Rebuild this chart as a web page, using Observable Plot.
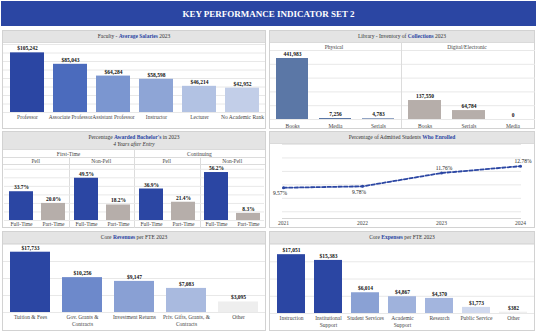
<!DOCTYPE html>
<html><head><meta charset="utf-8">
<script src="https://cdn.jsdelivr.net/npm/d3@7"></script>
<script src="https://cdn.jsdelivr.net/npm/@observablehq/plot@0.6"></script>
<style>
html,body{margin:0;padding:0;background:#fff;}
body{position:relative;width:537px;height:335px;overflow:hidden;font-family:'Liberation Serif','Times New Roman',serif;color:#333;}
.banner{position:absolute;left:1px;top:1px;width:535px;height:25px;background:#2b46a3;color:#fff;font-weight:bold;font-size:9px;text-align:center;line-height:26px;}
.panel{position:absolute;box-sizing:border-box;border:1px solid #d2d2d2;background:#fff;}
.hdr{position:absolute;left:0;top:0;right:0;background:#e4e4e4;text-align:center;font-size:5.5px;color:#333;border-bottom:1px solid #dadada;}
.hdr b{color:#2b46a3;}
.lbl{position:absolute;transform:translate(-50%,-50%);white-space:nowrap;font-size:5.5px;color:#444;}
.hl{position:absolute;height:1px;background:#dcdcdc;}
.vl{position:absolute;width:1px;background:#dcdcdc;}
</style></head><body>
<div class="banner">KEY PERFORMANCE INDICATOR SET 2</div>

<div class="panel" style="left:2px;top:30px;width:264px;height:99px"><div class="hdr" style="height:11px;line-height:11px">Faculty - <b>Average Salaries</b> 2023</div></div>
<div class="panel" style="left:269px;top:30px;width:266px;height:99px"><div class="hdr" style="height:11px;line-height:11px">Library - Inventory of <b>Collections</b> 2023</div></div>
<div class="panel" style="left:2px;top:131px;width:264px;height:97px"><div class="hdr" style="height:18px;line-height:7px;padding-top:2px;box-sizing:border-box">Percentage <b>Awarded Bachelor's</b> in 2023<br><i>4 Years after Entry</i></div></div>
<div class="panel" style="left:269px;top:131px;width:266px;height:97px"><div class="hdr" style="height:11px;line-height:11px">Percentage of Admitted Students <b>Who Enrolled</b></div></div>
<div class="panel" style="left:2px;top:231px;width:264px;height:100px"><div class="hdr" style="height:11px;line-height:11px">Core <b>Revenues</b> per FTE 2023</div></div>
<div class="panel" style="left:269px;top:231px;width:266px;height:100px"><div class="hdr" style="height:11px;line-height:11px">Core <b>Expenses</b> per FTE 2023</div></div>

<script>
// ---------- DATA ----------
const facultyRanks = ["Professor","Associate Professor","Assistant Professor","Instructor","Lecturer","No Academic Rank"];
const facultySalaries = [105242, 85043, 64284, 58598, 46214, 42952];

const physicalItems = ["Books","Media","Serials"];
const physicalCounts = [441983, 7256, 4783];
const digitalItems = ["Books","Serials","Media"];
const digitalCounts = [137550, 64784, 0];

const cohortGroups = ["First-Time","First-Time","Continuing","Continuing"];
const pellStatus = ["Pell","Non-Pell","Pell","Non-Pell"];
const attendance = ["Full-Time","Part-Time"];
const fullTimePct = [33.7, 49.5, 36.9, 56.2];
const partTimePct = [20.0, 18.2, 21.4, 8.3];

const years = ["2021","2022","2023","2024"];
const enrolledPct = [9.57, 9.78, 11.76, 12.78];

const revenueSources = ["Tuition & Fees","Gov. Grants & Contracts","Investment Returns","Priv. Gifts, Grants, & Contracts","Other"];
const revenueTicks = ["Tuition & Fees","Gov. Grants &\nContracts","Investment Returns","Priv. Gifts, Grants, &\nContracts","Other"];
const revenuePerFTE = [17733, 10256, 9147, 7083, 3095];

const expenseFunctions = ["Instruction","Institutional Support","Student Services","Academic Support","Research","Public Service","Other"];
const expenseTicks = ["Instruction","Institutional\nSupport","Student Services","Academic\nSupport","Research","Public Service","Other"];
const expensePerFTE = [17051, 15383, 6014, 4867, 4370, 1773, 382];

// ---------- PALETTES ----------
const BLUE = "#2b46a3", TAUPE = "#b6aeaa";
const facultyColors = ["#2b46a3","#4b6bbd","#7b96d0","#8ea5d6","#b2c2e3","#c2cee8"];
const revenueColors = ["#2b46a3","#6d89cb","#89a0d4","#a9badf","#eeeeee"];
const expenseColors = ["#2b46a3","#2b46a3","#8aa1d4","#9fb2dc","#a3b5de","#d0d9ee","#efefef"];

const baseStyle = {fontFamily:"'Liberation Serif','Times New Roman',serif", fontSize:"5.5px", color:"#444", background:"transparent", overflow:"visible"};
const GRID = "#e8e8e8";

function place(svg, left, top) {
  svg.style.position = "absolute";
  svg.style.left = left + "px";
  svg.style.top = top + "px";
  svg.style.maxWidth = "none";
  document.body.appendChild(svg);
}
function label(text, x, y, extra) {
  const d = document.createElement("div");
  d.className = "lbl"; d.textContent = text;
  d.style.left = x + "px"; d.style.top = y + "px";
  if (extra) Object.assign(d.style, extra);
  document.body.appendChild(d);
}
function line(cls, x, y, len) {
  const d = document.createElement("div");
  d.className = cls;
  d.style.left = x + "px"; d.style.top = y + "px";
  if (cls === "hl") d.style.width = len + "px"; else d.style.height = len + "px";
  document.body.appendChild(d);
}

let colorFill = BLUE;
function barChart({cats, vals, ticks, colors, width, height, mt, mb, domain, step, pi, po, fmt, tp}) {
  const data = cats.map((c, i) => ({c, v: vals[i]}));
  return Plot.plot({
    width, height, marginTop: mt, marginBottom: mb, marginLeft: 0, marginRight: 0,
    style: baseStyle,
    x: {domain: cats, paddingInner: pi, paddingOuter: po, axis: null},
    y: {domain, axis: null},
    color: colors ? {domain: cats, range: colors} : undefined,
    marks: [
      Plot.gridY(d3.range(0, domain[1] + 1, step), {stroke: GRID, strokeOpacity: 1}),
      Plot.barY(data, {x: "c", y: "v", fill: colors ? "c" : colorFill}),
      Plot.text(data, {x: "c", y: "v", text: d => fmt(d.v), dy: -2.5, lineAnchor: "bottom", fontWeight: "bold", fill: "#111"}),
      Plot.axisX({tickSize: 0, tickPadding: tp, lineHeight: 1.25, fill: "#444", label: null,
        tickFormat: d => (ticks || cats)[cats.indexOf(d)]})
    ]
  });
}
const dollars = v => "$" + d3.format(",")(v);
const count = v => d3.format(",")(v);

// Panel 1: Faculty salaries
place(barChart({cats: facultyRanks, vals: facultySalaries, colors: facultyColors,
  width: 262, height: 85, mt: 1, mb: 16, domain: [0, 120000], step: 15000,
  pi: 0.22, po: 0.11, fmt: dollars, tp: 2}), 3, 43);

// Panel 2: Library collections (two groups)
label("Physical", 334, 46.5);
label("Digital/Electronic", 467, 46.5);
line("hl", 270, 50, 264);
line("vl", 401, 42, 86);
colorFill = "#5b77a6";
place(barChart({cats: physicalItems, vals: physicalCounts,
  width: 131, height: 78, mt: 0, mb: 9, domain: [0, 500000], step: 100000,
  pi: 0.25, po: 0.12, fmt: count, tp: 3.5}), 270, 50);
colorFill = TAUPE;
place(barChart({cats: digitalItems, vals: digitalCounts,
  width: 133, height: 78, mt: 0, mb: 9, domain: [0, 500000], step: 100000,
  pi: 0.25, po: 0.12, fmt: count, tp: 3.5}), 402, 50);

// Panel 3: Bachelor's awarded (faceted)
{
  const keys = cohortGroups.map((g, i) => g + " " + pellStatus[i]);
  const rows = [];
  keys.forEach((k, i) => {
    rows.push({k, a: attendance[0], v: fullTimePct[i]});
    rows.push({k, a: attendance[1], v: partTimePct[i]});
  });
  const fw = 262 / 4;
  label("First-Time", 3 + fw, 154);
  label("Continuing", 3 + 3 * fw, 154);
  keys.forEach((k, i) => label(pellStatus[i], 3 + fw * (i + 0.5), 160.5));
  line("hl", 3, 157, 262);
  line("hl", 3, 164, 262);
  line("vl", 3 + 2 * fw, 150, 78);
  line("vl", 3 + fw, 157, 71);
  line("vl", 3 + 3 * fw, 157, 71);
  place(Plot.plot({
    width: 262, height: 64, marginTop: 0, marginBottom: 8, marginLeft: 0, marginRight: 0,
    style: baseStyle,
    fx: {domain: keys, padding: 0, axis: null},
    x: {domain: attendance, paddingInner: 0.25, paddingOuter: 0.125, axis: null},
    y: {domain: [0, 65.6], axis: null},
    color: {domain: attendance, range: [BLUE, TAUPE]},
    marks: [
      Plot.gridY([0, 10, 20, 30, 40, 50, 60], {stroke: GRID, strokeOpacity: 1}),
      Plot.barY(rows, {fx: "k", x: "a", y: "v", fill: "a"}),
      Plot.text(rows, {fx: "k", x: "a", y: "v", text: d => d.v.toFixed(1) + "%", dy: -2.5, lineAnchor: "bottom", fontWeight: "bold", fill: "#111"}),
      Plot.axisX({tickSize: 0, tickPadding: 2, fill: "#444", label: null})
    ]
  }), 3, 164);
}

// Panel 4: Yield line
{
  const pts = years.map((y, i) => ({year: y, v: enrolledPct[i], i}));
  place(Plot.plot({
    width: 264, height: 84, marginTop: 0, marginBottom: 10, marginLeft: 12, marginRight: 13,
    style: baseStyle,
    x: {type: "point", domain: years, padding: 0, axis: null},
    y: {domain: [5, 16], axis: null},
    marks: [
      Plot.gridY([6, 8, 10, 12, 14, 16], {stroke: GRID, strokeOpacity: 1}),
      Plot.ruleY([5], {stroke: "#d6d6d6"}),
      Plot.line(pts, {x: "year", y: "v", stroke: BLUE, strokeWidth: 1.8, strokeDasharray: "3.5,2"}),
      Plot.dot(pts, {x: "year", y: "v", r: 1.5, fill: BLUE, stroke: "none"}),
      Plot.text(pts.filter(d => d.i < 2), {x: "year", y: "v", text: d => d.v.toFixed(2) + "%", dy: 5.5, dx: -3.5, fill: "#222"}),
      Plot.text(pts.filter(d => d.i >= 2), {x: "year", y: "v", text: d => d.v.toFixed(2) + "%", dy: -5, dx: 2.5, fill: "#222"}),
      Plot.axisX({tickSize: 0, tickPadding: 3, fill: "#444", label: null})
    ]
  }), 270, 144);
}

// Panel 5: Revenues
place(barChart({cats: revenueSources, vals: revenuePerFTE, ticks: revenueTicks, colors: revenueColors,
  width: 262, height: 86, mt: 0, mb: 18, domain: [0, 20000], step: 5000,
  pi: 0.24, po: 0.11, fmt: dollars, tp: 2}), 3, 244);

// Panel 6: Expenses
place(barChart({cats: expenseFunctions, vals: expensePerFTE, ticks: expenseTicks, colors: expenseColors,
  width: 264, height: 87, mt: 0, mb: 18, domain: [0, 20000], step: 5000,
  pi: 0.25, po: 0.1, fmt: dollars, tp: 2}), 270, 244);
</script>
</body></html>
